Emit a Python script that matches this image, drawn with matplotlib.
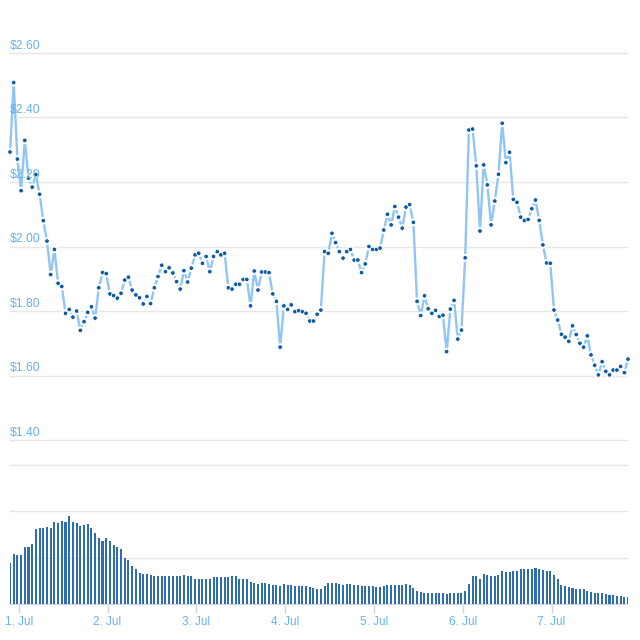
import matplotlib
matplotlib.use("Agg")
import matplotlib.pyplot as plt
import matplotlib.dates as mdates
import matplotlib.patheffects as pe
import pandas as pd

plt.rcParams['font.family'] = ['Liberation Sans', 'DejaVu Sans']

# hourly samples, 30 Jun 21:39 -> 7 Jul 20:39
times = pd.date_range('2021-06-30 21:39', periods=168, freq='h')

# price in USD
price = [
    2.293, 2.508, 2.271, 2.173, 2.329, 2.212, 2.184, 2.223, 2.162, 2.080,
    2.017, 1.913, 1.991, 1.886, 1.876, 1.793, 1.805, 1.781, 1.800, 1.740,
    1.767, 1.796, 1.813, 1.778, 1.872, 1.919, 1.916, 1.853, 1.848, 1.840,
    1.855, 1.896, 1.905, 1.865, 1.850, 1.841, 1.822, 1.845, 1.823, 1.872,
    1.907, 1.942, 1.922, 1.934, 1.918, 1.891, 1.868, 1.925, 1.890, 1.933,
    1.974, 1.979, 1.948, 1.969, 1.922, 1.969, 1.984, 1.974, 1.979, 1.872,
    1.868, 1.883, 1.883, 1.898, 1.898, 1.816, 1.924, 1.865, 1.921, 1.921,
    1.919, 1.853, 1.830, 1.688, 1.816, 1.805, 1.819, 1.798, 1.801, 1.798,
    1.793, 1.769, 1.769, 1.790, 1.803, 1.984, 1.979, 2.041, 2.012, 1.984,
    1.964, 1.984, 1.991, 1.958, 1.958, 1.919, 1.946, 2.000, 1.991, 1.991,
    1.995, 2.051, 2.100, 2.067, 2.124, 2.091, 2.057, 2.122, 2.130, 2.075,
    1.830, 1.786, 1.847, 1.807, 1.793, 1.802, 1.783, 1.787, 1.674, 1.806,
    1.833, 1.713, 1.741, 1.965, 2.361, 2.364, 2.250, 2.048, 2.253, 2.191,
    2.067, 2.141, 2.224, 2.382, 2.260, 2.292, 2.146, 2.137, 2.091, 2.081,
    2.084, 2.117, 2.144, 2.081, 2.005, 1.949, 1.948, 1.803, 1.772, 1.728,
    1.719, 1.706, 1.754, 1.727, 1.700, 1.688, 1.723, 1.664, 1.632, 1.602,
    1.643, 1.613, 1.602, 1.617, 1.617, 1.628, 1.609, 1.651,
]

# traded volume (arbitrary units, axis unlabeled)
volume = [
    8.9, 10.7, 10.5, 10.5, 12.2, 12.2, 13.0, 16.1, 16.5, 16.3,
    16.7, 16.3, 17.7, 17.5, 17.9, 17.7, 19.0, 17.7, 17.5, 16.8,
    17.0, 17.2, 16.3, 15.4, 14.2, 13.7, 14.2, 13.5, 12.7, 12.2,
    11.9, 9.9, 9.4, 8.3, 7.6, 6.6, 6.4, 6.4, 6.2, 6.0,
    6.0, 6.0, 6.0, 6.0, 6.0, 6.0, 6.0, 6.2, 6.0, 6.0,
    5.5, 5.3, 5.3, 5.5, 5.5, 5.8, 5.8,
    5.8, 5.8, 5.8, 6.0, 6.0, 5.5, 5.5, 5.5, 4.8, 4.6,
    4.4, 4.6, 4.6, 4.3, 4.1, 4.1, 3.9, 4.3, 4.1, 4.1,
    3.9, 3.9, 3.9, 3.9, 3.6, 3.4, 3.2, 3.2, 3.9, 4.6,
    4.6, 4.6, 4.3, 4.1, 4.3, 4.3, 4.1, 4.1, 3.9, 3.9,
    3.9, 3.9, 3.7, 3.7, 3.9, 4.1, 4.1, 4.1, 4.1, 4.1,
    4.3, 4.1, 3.4, 2.9, 2.7, 2.4, 2.4, 2.4, 2.4, 2.4,
    2.4, 2.2, 2.4, 2.4, 2.4, 2.4, 2.9, 4.4, 6.0, 6.0,
    5.5, 6.4, 6.2, 6.0, 6.0, 6.2, 7.1, 6.9, 6.9, 7.1,
    7.1, 7.6, 7.6, 7.6, 7.6, 7.8, 7.6, 7.3, 7.1, 7.1,
    6.2, 5.3, 4.1, 3.9, 3.6, 3.4, 3.2, 3.2, 3.2, 2.9,
    2.7, 2.4, 2.4, 2.4, 2.2, 2.0, 2.0, 1.8, 1.8, 1.6, 1.6,
]

price_ticks = [1.40, 1.60, 1.80, 2.00, 2.20, 2.40, 2.60]
volume_ticks = [0, 10, 20, 30]

label_col = '#66b3ee'
grid_col = '#e6e6e6'

fig = plt.figure(figsize=(6.4, 6.4), dpi=100)
ax = fig.add_axes([10 / 640, 198 / 640, 618 / 640, 391 / 640])
axv = fig.add_axes([10 / 640, 35 / 640, 618 / 640, 141 / 640])

# price pane
ax.plot(times, price, color='#90c6f7', lw=1.7, marker='o', ms=3.2,
        mfc='#0b5aa6', mec='white', mew=0.5, clip_on=False, zorder=3,
        path_effects=[pe.Stroke(linewidth=2.4, foreground='white'), pe.Normal()])
ax.set_ylim(1.394, 2.606)
ax.set_yticks(price_ticks)
ax.set_yticklabels([])
ax.tick_params(axis='y', length=0)
ax.grid(axis='y', color=grid_col, lw=1)
ax.set_axisbelow(True)
ax.set_xlim(times[0], times[-1])
ax.set_xticks([])
for s in ax.spines.values():
    s.set_visible(False)
for t in price_ticks:
    ax.text(0, t + 0.004, '$%.2f' % t, transform=ax.get_yaxis_transform(),
            ha='left', va='bottom', color=label_col, fontsize=8.8, zorder=4)

# volume pane
axv.bar(times, volume, width=0.55 / 24, color='#2f6eae', zorder=2)
axv.set_ylim(-0.2, 30.2)
axv.set_yticks(volume_ticks)
axv.set_yticklabels([])
axv.tick_params(axis='y', length=0)
axv.grid(axis='y', color=grid_col, lw=1)
axv.set_axisbelow(True)
axv.set_xlim(times[0], times[-1])
for s in axv.spines.values():
    s.set_visible(False)
axv.axhline(0, color='#ccd6eb', lw=1, zorder=1)
axv.xaxis.set_major_locator(mdates.DayLocator())
axv.xaxis.set_major_formatter(mdates.DateFormatter('%-d. %b'))
axv.tick_params(axis='x', length=6, width=1, color='#ccd6eb',
                labelcolor=label_col, labelsize=8.5, pad=2)

fig.savefig('out.png', dpi=100)
